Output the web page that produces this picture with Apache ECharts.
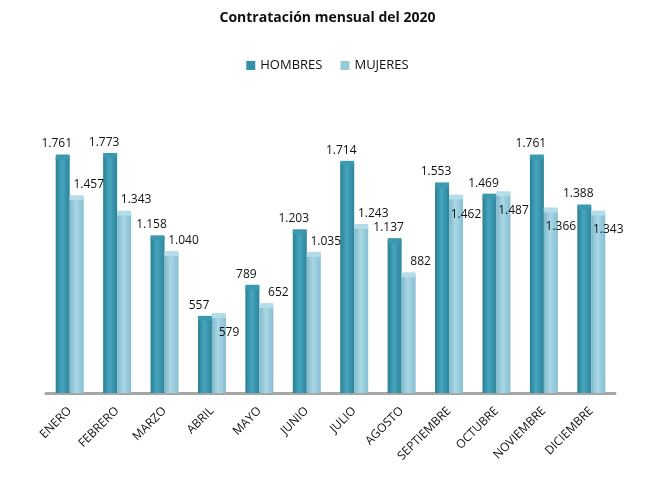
<!DOCTYPE html>
<html>
<head>
<meta charset="utf-8">
<script src="https://cdn.jsdelivr.net/npm/echarts@6/dist/echarts.min.js"></script>
<style>
  html, body { margin: 0; padding: 0; background: #fff; }
  #chart { width: 655px; height: 478px; }
</style>
</head>
<body>
<div id="chart"></div>
<script>
const months = ["ENERO", "FEBRERO", "MARZO", "ABRIL", "MAYO", "JUNIO", "JULIO", "AGOSTO", "SEPTIEMBRE", "OCTUBRE", "NOVIEMBRE", "DICIEMBRE"];
const hombres = [1761, 1773, 1158, 557, 789, 1203, 1714, 1137, 1553, 1469, 1761, 1388];
const mujeres = [1457, 1343, 1040, 579, 652, 1035, 1243, 882, 1462, 1487, 1366, 1343];

const colors = {
  hombres: ["#2a7f94", "#46a6be", "#2c8499"], // cilindro oscuro
  mujeres: ["#7fb8cb", "#a9d7e6", "#86bfd1"], // cilindro claro
  hombresTop: "#3b98ae",
  mujeresTop: "#b5dde9",
};

const fmt = v => v >= 1000 ? Math.floor(v / 1000) + "." + String(v % 1000).padStart(3, "0") : String(v);

function cyl(c) {
  return new echarts.graphic.LinearGradient(0, 0, 1, 0, [
    { offset: 0, color: c[0] },
    { offset: 0.45, color: c[1] },
    { offset: 1, color: c[2] },
  ]);
}

// etiqueta de mujeres baja sobre la barra si choca con la de hombres
const mujeresData = mujeres.map((v, i) => {
  const near = Math.abs(v - hombres[i]) < 100 ||
    (i + 1 < hombres.length && Math.abs(v - hombres[i + 1]) < 100);
  return near ? { value: v, label: { offset: [10, 30] } } : v;
});

function barSeries(name, data, c, offset) {
  return {
    name,
    type: "bar",
    data,
    barGap: "0%",
    barCategoryGap: "41%",
    itemStyle: { color: cyl(c) },
    label: {
      show: true,
      position: "top",
      distance: 7,
      offset,
      color: "#111",
      fontSize: 12,
      fontFamily: "Open Sans",
      formatter: p => fmt(p.value),
    },
  };
}

function capSeries(data, color) {
  return {
    type: "pictorialBar",
    data,
    symbol: "ellipse",
    symbolSize: [14, 5],
    symbolPosition: "end",
    symbolOffset: [0, "-50%"],
    barGap: "0%",
    barCategoryGap: "41%",
    itemStyle: { color },
    silent: true,
    tooltip: { show: false },
    z: 3,
  };
}

const option = {
  title: {
    text: "Contratación mensual del 2020",
    left: "center",
    top: 6,
    textStyle: { fontSize: 14, fontWeight: "bold", color: "#111", fontFamily: "Open Sans" },
  },
  legend: {
    data: [
      { name: "HOMBRES", itemStyle: { color: "#3591a8" } },
      { name: "MUJERES", itemStyle: { color: "#96c9da" } },
    ],
    top: 54,
    left: "center",
    icon: "rect",
    itemWidth: 9,
    itemHeight: 9,
    itemGap: 18,
    textStyle: { fontSize: 13, color: "#111", fontFamily: "Open Sans" },
  },
  grid: { left: 46, right: 40, top: 125, bottom: 85 },
  xAxis: {
    type: "category",
    data: months,
    axisTick: { show: false },
    axisLine: { lineStyle: { color: "#a6a6a6", width: 3 } },
    axisLabel: {
      rotate: 45,
      interval: 0,
      margin: 16,
      fontSize: 12,
      color: "#111",
      fontFamily: "Open Sans",
    },
  },
  yAxis: {
    type: "value",
    min: 0,
    max: 2000,
    show: false,
  },
  series: [
    barSeries("HOMBRES", hombres, colors.hombres, [-6, 0]),
    barSeries("MUJERES", mujeresData, colors.mujeres, [12, 0]),
    capSeries(hombres, colors.hombresTop),
    capSeries(mujeres, colors.mujeresTop),
  ],
};

const chart = echarts.init(document.getElementById("chart"));
chart.setOption(option);
</script>
</body>
</html>
